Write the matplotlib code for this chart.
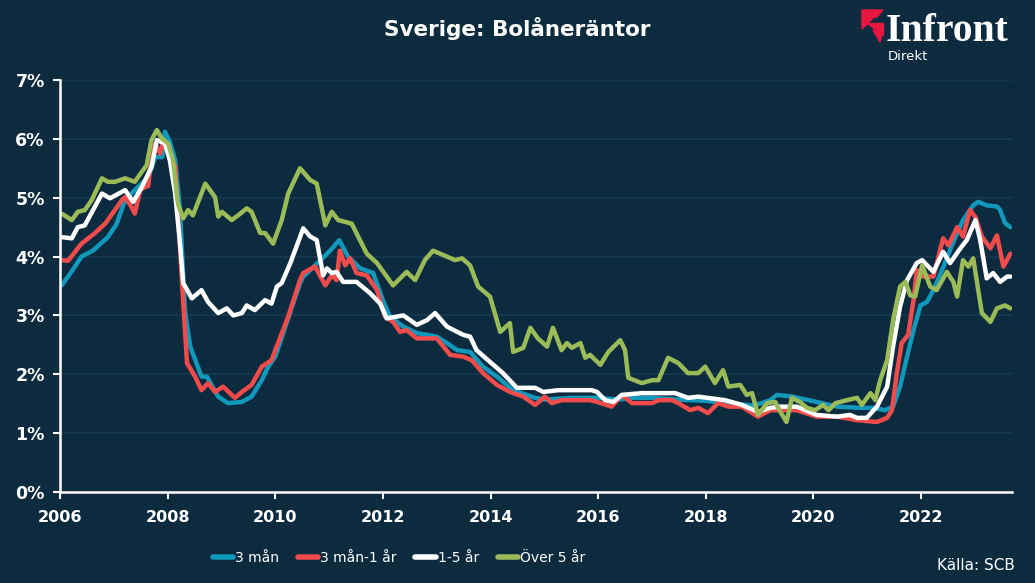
import matplotlib
matplotlib.use("Agg")
import matplotlib.pyplot as plt
from matplotlib.patches import Polygon
from matplotlib.ticker import FuncFormatter, MultipleLocator

BG = "#0c2b3f"
GRID = "#163a51"

# --- data (decimal years, percent) ---
t_3m = [2006.03, 2006.22, 2006.40, 2006.61, 2006.89, 2007.05, 2007.21, 2007.39, 2007.64, 2007.77,
        2007.90, 2007.95, 2008.04, 2008.14, 2008.23, 2008.32, 2008.42, 2008.63, 2008.73, 2008.94,
        2009.12, 2009.38, 2009.56, 2009.75, 2009.87, 2010.00, 2010.24, 2010.46, 2010.52, 2010.74,
        2011.02, 2011.19, 2011.35, 2011.58, 2011.82, 2012.00, 2012.13, 2012.38, 2012.63, 2013.00,
        2013.19, 2013.38, 2013.62, 2013.86, 2014.12, 2014.42, 2014.83, 2015.00, 2015.50, 2016.00,
        2016.40, 2016.60, 2017.00, 2017.50, 2018.00, 2018.50, 2018.90, 2019.20, 2019.32, 2019.62,
        2020.06, 2020.44, 2020.87, 2021.11, 2021.33, 2021.48, 2021.61, 2021.74, 2021.86, 2021.99,
        2022.11, 2022.23, 2022.39, 2022.60, 2022.78, 2022.97, 2023.06, 2023.22, 2023.41, 2023.47,
        2023.56, 2023.66]
v_3m = [3.51, 3.75, 4.00, 4.10, 4.33, 4.55, 4.96, 5.13, 5.35, 5.69,
        5.69, 6.12, 5.95, 5.64, 4.79, 3.09, 2.47, 1.96, 1.96, 1.62,
        1.51, 1.53, 1.62, 1.90, 2.13, 2.30, 2.95, 3.55, 3.66, 3.85,
        4.10, 4.28, 4.00, 3.80, 3.72, 3.26, 2.98, 2.81, 2.70, 2.64,
        2.53, 2.41, 2.38, 2.13, 1.96, 1.73, 1.60, 1.57, 1.60, 1.60,
        1.57, 1.60, 1.60, 1.57, 1.55, 1.50, 1.47, 1.56, 1.65, 1.62,
        1.53, 1.45, 1.43, 1.43, 1.39, 1.45, 1.79, 2.30, 2.75, 3.17,
        3.23, 3.43, 3.77, 4.25, 4.62, 4.87, 4.93, 4.87, 4.85, 4.79,
        4.57, 4.50]

t_3m1y = [2006.03, 2006.15, 2006.40, 2006.65, 2006.84, 2007.02, 2007.15, 2007.21, 2007.33, 2007.39,
          2007.49, 2007.58, 2007.64, 2007.67, 2007.77, 2007.86, 2007.91, 2008.01, 2008.14, 2008.19,
          2008.26, 2008.36, 2008.51, 2008.63, 2008.75, 2008.88, 2009.03, 2009.25, 2009.38, 2009.56,
          2009.75, 2009.93, 2010.24, 2010.46, 2010.52, 2010.74, 2010.93, 2011.05, 2011.14, 2011.20,
          2011.30, 2011.39, 2011.51, 2011.70, 2011.89, 2012.04, 2012.19, 2012.32, 2012.44, 2012.63,
          2013.00, 2013.25, 2013.49, 2013.65, 2013.86, 2014.12, 2014.36, 2014.61, 2014.83, 2015.01,
          2015.14, 2015.32, 2015.85, 2015.98, 2016.25, 2016.44, 2016.63, 2017.00, 2017.12, 2017.37,
          2017.49, 2017.71, 2017.86, 2018.04, 2018.23, 2018.42, 2018.67, 2018.97, 2019.20, 2019.38,
          2019.69, 2020.06, 2020.44, 2020.81, 2021.18, 2021.37, 2021.46, 2021.55, 2021.64, 2021.76,
          2021.86, 2021.92, 2022.04, 2022.23, 2022.41, 2022.51, 2022.67, 2022.78, 2022.91, 2023.01,
          2023.13, 2023.29, 2023.41, 2023.53, 2023.66]
v_3m1y = [3.94, 3.93, 4.22, 4.40, 4.56, 4.79, 4.96, 5.01, 4.84, 4.73,
          5.13, 5.18, 5.20, 5.47, 5.92, 5.75, 5.92, 5.86, 5.52, 4.79,
          3.66, 2.19, 1.96, 1.73, 1.85, 1.70, 1.79, 1.60, 1.70, 1.82,
          2.13, 2.24, 2.98, 3.60, 3.72, 3.83, 3.51, 3.68, 3.60, 4.10,
          3.85, 3.97, 3.72, 3.68, 3.43, 2.98, 2.89, 2.72, 2.75, 2.61,
          2.61, 2.33, 2.30, 2.24, 2.02, 1.82, 1.70, 1.62, 1.48, 1.62,
          1.51, 1.56, 1.56, 1.53, 1.45, 1.65, 1.51, 1.51, 1.56, 1.56,
          1.51, 1.39, 1.43, 1.34, 1.51, 1.45, 1.45, 1.28, 1.39, 1.39,
          1.39, 1.28, 1.28, 1.22, 1.19, 1.26, 1.39, 2.02, 2.53, 2.67,
          3.26, 3.77, 3.66, 3.66, 4.31, 4.19, 4.50, 4.34, 4.79, 4.67,
          4.34, 4.14, 4.36, 3.83, 4.05]

t_1_5y = [2006.03, 2006.22, 2006.33, 2006.46, 2006.78, 2006.93, 2007.21, 2007.36, 2007.52, 2007.70,
          2007.80, 2007.95, 2008.04, 2008.14, 2008.23, 2008.29, 2008.45, 2008.63, 2008.75, 2008.94,
          2009.10, 2009.22, 2009.38, 2009.47, 2009.62, 2009.81, 2009.93, 2010.03, 2010.12, 2010.28,
          2010.52, 2010.65, 2010.77, 2010.89, 2010.96, 2011.05, 2011.14, 2011.26, 2011.51, 2011.76,
          2011.95, 2012.07, 2012.38, 2012.63, 2012.82, 2012.97, 2013.19, 2013.49, 2013.62, 2013.74,
          2013.99, 2014.23, 2014.49, 2014.83, 2014.98, 2015.26, 2015.88, 2015.98, 2016.13, 2016.28,
          2016.44, 2016.81, 2017.43, 2017.67, 2017.86, 2018.36, 2018.67, 2018.97, 2019.20, 2019.38,
          2019.69, 2020.06, 2020.44, 2020.68, 2020.81, 2020.99, 2021.18, 2021.37, 2021.48, 2021.61,
          2021.74, 2021.92, 2022.02, 2022.23, 2022.41, 2022.54, 2022.73, 2022.85, 2023.01, 2023.10,
          2023.22, 2023.34, 2023.47, 2023.60, 2023.66]
v_1_5y = [4.33, 4.31, 4.50, 4.53, 5.07, 4.99, 5.13, 4.93, 5.18, 5.52,
          5.98, 5.92, 5.64, 5.07, 4.22, 3.55, 3.29, 3.43, 3.23, 3.04,
          3.12, 3.00, 3.04, 3.17, 3.09, 3.26, 3.20, 3.49, 3.55, 3.89,
          4.48, 4.34, 4.28, 3.68, 3.80, 3.72, 3.74, 3.57, 3.57, 3.38,
          3.20, 2.95, 3.00, 2.84, 2.92, 3.04, 2.81, 2.67, 2.64, 2.41,
          2.21, 2.02, 1.77, 1.77, 1.70, 1.73, 1.73, 1.70, 1.56, 1.53,
          1.65, 1.68, 1.68, 1.60, 1.62, 1.56, 1.48, 1.36, 1.43, 1.45,
          1.45, 1.31, 1.28, 1.31, 1.26, 1.26, 1.45, 1.79, 2.47, 3.15,
          3.60, 3.89, 3.94, 3.74, 4.08, 3.89, 4.14, 4.28, 4.62, 4.28,
          3.63, 3.72, 3.57, 3.66, 3.66]

t_5y = [2006.03, 2006.22, 2006.33, 2006.46, 2006.59, 2006.78, 2006.89, 2007.02, 2007.21, 2007.39,
        2007.52, 2007.61, 2007.70, 2007.80, 2007.89, 2008.01, 2008.10, 2008.19, 2008.29, 2008.38,
        2008.47, 2008.70, 2008.88, 2008.94, 2009.01, 2009.19, 2009.31, 2009.47, 2009.56, 2009.72,
        2009.81, 2009.96, 2010.12, 2010.24, 2010.46, 2010.65, 2010.77, 2010.93, 2011.05, 2011.17,
        2011.42, 2011.70, 2011.89, 2012.19, 2012.44, 2012.60, 2012.78, 2012.93, 2013.19, 2013.34,
        2013.47, 2013.62, 2013.77, 2013.99, 2014.18, 2014.36, 2014.42, 2014.61, 2014.74, 2014.88,
        2015.05, 2015.16, 2015.32, 2015.42, 2015.51, 2015.67, 2015.76, 2015.85, 2016.04, 2016.19,
        2016.41, 2016.50, 2016.56, 2016.81, 2017.00, 2017.12, 2017.30, 2017.49, 2017.67, 2017.86,
        2017.99, 2018.17, 2018.32, 2018.42, 2018.64, 2018.76, 2018.86, 2018.97, 2019.14, 2019.29,
        2019.40, 2019.50, 2019.60, 2019.75, 2019.88, 2020.03, 2020.18, 2020.28, 2020.41, 2020.62,
        2020.81, 2020.90, 2021.06, 2021.15, 2021.24, 2021.37, 2021.48, 2021.61, 2021.71, 2021.80,
        2021.89, 2022.02, 2022.17, 2022.29, 2022.48, 2022.60, 2022.67, 2022.78, 2022.88, 2022.97,
        2023.13, 2023.29, 2023.41, 2023.56, 2023.66]
v_5y = [4.73, 4.62, 4.76, 4.79, 4.96, 5.33, 5.27, 5.27, 5.33, 5.27,
        5.44, 5.55, 5.98, 6.15, 6.01, 5.92, 5.64, 4.90, 4.65, 4.79,
        4.70, 5.24, 5.01, 4.68, 4.76, 4.62, 4.70, 4.82, 4.76, 4.40,
        4.40, 4.22, 4.62, 5.07, 5.50, 5.30, 5.24, 4.53, 4.76, 4.62,
        4.56, 4.05, 3.89, 3.51, 3.74, 3.60, 3.94, 4.10, 4.00, 3.94,
        3.97, 3.85, 3.49, 3.32, 2.72, 2.87, 2.38, 2.45, 2.79, 2.61,
        2.47, 2.79, 2.41, 2.53, 2.45, 2.53, 2.28, 2.33, 2.16, 2.38,
        2.58, 2.41, 1.94, 1.85, 1.90, 1.90, 2.28, 2.19, 2.02, 2.02,
        2.13, 1.85, 2.07, 1.79, 1.82, 1.65, 1.68, 1.31, 1.51, 1.53,
        1.34, 1.19, 1.60, 1.53, 1.43, 1.39, 1.48, 1.39, 1.51, 1.56,
        1.60, 1.48, 1.68, 1.56, 1.90, 2.24, 2.92, 3.49, 3.57, 3.34,
        3.32, 3.85, 3.49, 3.43, 3.74, 3.57, 3.32, 3.94, 3.83, 3.97,
        3.04, 2.89, 3.12, 3.17, 3.12]

labels = ["3 mån", "3 mån-1 år", "1-5 år", "Över 5 år"]
colors = ["#1198bb", "#f24b4b", "#ffffff", "#9bbb59"]
x_ticks = list(range(2006, 2024, 2))

fig = plt.figure(figsize=(10.35, 5.83), dpi=100, facecolor=BG)
ax = fig.add_axes([60 / 1035, 1 - 492 / 583, (1012 - 60) / 1035, (492 - 80) / 583])
ax.set_facecolor(BG)

series = [(t_3m, v_3m), (t_3m1y, v_3m1y), (t_1_5y, v_1_5y), (t_5y, v_5y)]
lines = []
for (t, v), lab, c in zip(series, labels, colors):
    ln, = ax.plot(t, v, color=c, lw=3.2, label=lab, solid_joinstyle="round",
                  solid_capstyle="round")
    lines.append(ln)

ax.set_xlim(2006, 2023.69)
ax.set_ylim(0, 7)
ax.set_xticks(x_ticks)
ax.yaxis.set_major_locator(MultipleLocator(1))
ax.yaxis.set_major_formatter(FuncFormatter(lambda y, _: f"{y:.0f}%"))
ax.grid(axis="y", color=GRID, lw=1.2)
ax.set_axisbelow(True)
for s in ("top", "right"):
    ax.spines[s].set_visible(False)
for s in ("left", "bottom"):
    ax.spines[s].set_color("white")
    ax.spines[s].set_linewidth(1.8)
ax.tick_params(colors="white", length=5, width=1.5, labelsize=11.5)
ax.tick_params(axis="y", labelsize=12.5, pad=6)
ax.tick_params(axis="x", pad=8)
for lbl in ax.get_xticklabels() + ax.get_yticklabels():
    lbl.set_fontweight("bold")

fig.text(0.5, 1 - 28 / 583, "Sverige: Bolåneräntor", color="white", fontsize=15.5,
         fontweight="bold", ha="center", va="center")

# logo
red = "#e8173f"
for pts in ([(862, 10), (883, 10), (877, 17), (862, 17)],
            [(862, 17), (874, 17), (862, 29)],
            [(867, 23), (883, 23), (883, 35)],
            [(873, 30), (883, 30), (880, 42)]):
    fig.add_artist(Polygon([(x / 1035, 1 - y / 583) for x, y in pts], closed=True,
                           color=red, transform=fig.transFigure))
fig.text(886 / 1035, 1 - 41 / 583, "Infront", color="white", fontsize=28.5,
         fontweight="bold", family="Liberation Serif", ha="left", va="baseline")
fig.text(888 / 1035, 1 - 56 / 583, "Direkt", color="white", fontsize=9.5,
         ha="left", va="center")

leg = fig.legend(handles=lines, labels=labels, loc="center", bbox_to_anchor=(0.3855, 1 - 558 / 583),
                 ncol=4, frameon=False, handlelength=1.45, handletextpad=0.15,
                 columnspacing=1.35, prop={"size": 10})
for txt in leg.get_texts():
    txt.set_color("white")
for h in leg.legend_handles:
    h.set_linewidth(4)

fig.text(1015 / 1035, 1 - 565 / 583, "Källa: SCB", color="white", fontsize=11,
         ha="right", va="center")

fig.savefig("out.png", dpi=100, facecolor=BG)
